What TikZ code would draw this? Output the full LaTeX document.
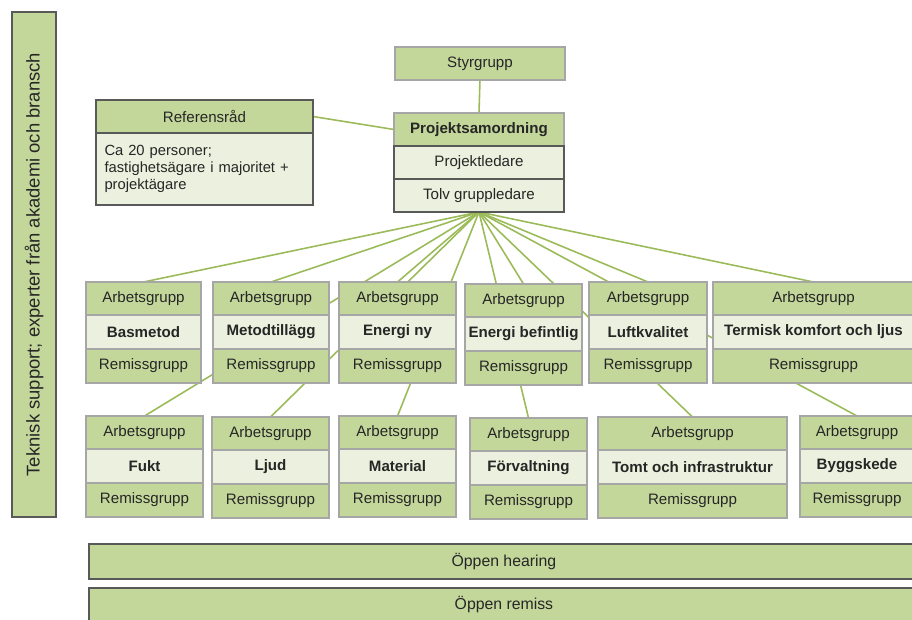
\documentclass[tikz,border=0pt]{standalone}
\usepackage{fontspec}
\setmainfont{Liberation Sans}
\usetikzlibrary{backgrounds}

\definecolor{gruen}{HTML}{C4D79B}
\definecolor{ljusgruen}{HTML}{EBF1DE}
\definecolor{linje}{HTML}{9BBB59}
\definecolor{kant}{HTML}{A6A6A6}
\definecolor{morkkant}{HTML}{595959}

\tikzset{
  ruta/.style={rectangle, draw=kant, line width=0.7pt, outer sep=0pt, inner sep=1pt,
    anchor=north west, text=black!85, font=\fontsize{8.6}{10}\selectfont},
  huvud/.style={ruta, fill=gruen},
  amne/.style={ruta, fill=ljusgruen, font=\fontsize{8.6}{10}\selectfont\bfseries},
  forb/.style={draw=linje, line width=0.9pt}
}

% arbetsgrupp: namn, vänster x, höger x, övre y, ämne
\newcommand\arbgrupp[5]{%
  \node[huvud, minimum width={(#3-#2)*0.02cm}, minimum height=0.66cm] (#1a) at (#2,#4) {Arbetsgrupp};
  \node[amne, minimum width={(#3-#2)*0.02cm}, minimum height=0.68cm] (#1b) at (#1a.south west) {#5};
  \node[huvud, minimum width={(#3-#2)*0.02cm}, minimum height=0.68cm] (#1c) at (#1b.south west) {Remissgrupp};
}

\begin{document}
\begin{tikzpicture}[x=0.02cm, y=-0.02cm]
  \clip (0,0) rectangle (912,619);

  % teknisk support
  \node[rectangle, draw=morkkant, fill=gruen, line width=0.8pt, rotate=90,
    minimum width=10.1cm, minimum height=0.88cm, text=black!85,
    font=\fontsize{10.5}{12}\selectfont] (support) at (34,264.5)
    {Teknisk support; experter från akademi och bransch};

  % styrning
  \node[huvud, minimum width=3.4cm, minimum height=0.66cm] (styr) at (395,47) {Styrgrupp};
  \node[huvud, minimum width=3.4cm, minimum height=0.66cm,
    font=\fontsize{8.6}{10}\selectfont\bfseries] (psa) at (394,113) {Projektsamordning};
  \node[ruta, fill=ljusgruen, draw=morkkant, minimum width=3.4cm, minimum height=0.66cm] (psb) at (psa.south west) {Projektledare};
  \node[ruta, fill=ljusgruen, draw=morkkant, minimum width=3.4cm, minimum height=0.66cm] (psc) at (psb.south west) {Tolv gruppledare};

  % referensråd
  \node[huvud, draw=morkkant, minimum width=4.34cm, minimum height=0.66cm] (refa) at (96,100) {Referensråd};
  \node[ruta, fill=ljusgruen, draw=morkkant, minimum width=4.34cm, minimum height=1.44cm,
    text width=4.0cm, align=left, inner sep=4pt,
    font=\fontsize{8.4}{9.8}\selectfont] (refb) at (refa.south west)
    {Ca 20 personer;\\fastighetsägare i majoritet +\\projektägare\\[5pt]};

  % arbetsgrupper, övre raden
  \arbgrupp{bas}{86}{201}{282}{Basmetod}
  \arbgrupp{met}{213}{329}{282}{Metodtillägg}
  \arbgrupp{eny}{339}{456}{282}{Energi ny}
  \arbgrupp{ebe}{465}{582}{284}{Energi befintlig}
  \arbgrupp{luf}{589}{707}{282}{Luftkvalitet}
  \arbgrupp{ter}{713}{914}{282}{Termisk komfort och ljus}

  % arbetsgrupper, nedre raden
  \arbgrupp{fuk}{86}{203}{416}{Fukt}
  \arbgrupp{lju}{212}{329}{417}{Ljud}
  \arbgrupp{mat}{339}{456}{416}{Material}
  \arbgrupp{for}{470}{587}{418}{Förvaltning}
  \arbgrupp{tom}{598}{787}{417}{Tomt och infrastruktur}
  \arbgrupp{byg}{800}{914}{416}{Byggskede}

  % öppna moment
  \node[huvud, draw=morkkant, minimum width=16.6cm, minimum height=0.7cm,
    font=\fontsize{9}{10}\selectfont] (hear) at (89,544) {Öppen hearing};
  \node[huvud, draw=morkkant, minimum width=16.6cm, minimum height=0.66cm,
    font=\fontsize{9}{10}\selectfont] (rem) at (89,588) {Öppen remiss};

  % förbindelser
  \begin{pgfonlayer}{background}
    \draw[forb] (styr.south) -- (psa.north);
    \draw[forb] (refa.east) -- (psa.west);
    \foreach \g in {bas,met,eny,ebe,luf,ter,fuk,lju,mat,for,tom,byg}
      \draw[forb] (psc.south) -- (\g a.north);
  \end{pgfonlayer}
\end{tikzpicture}
\end{document}
